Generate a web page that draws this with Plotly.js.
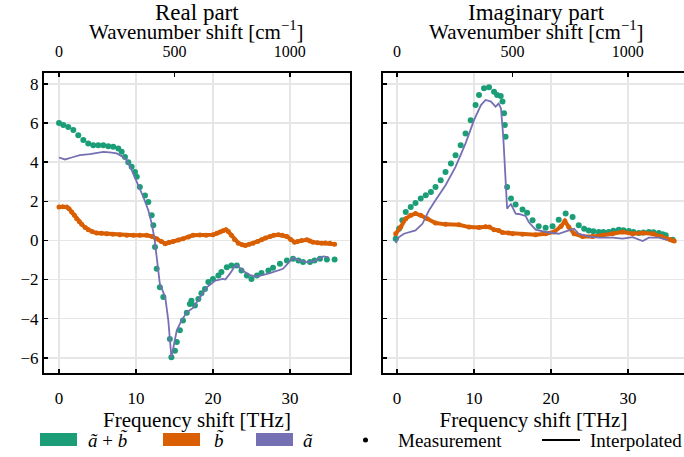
<!DOCTYPE html>
<html><head><meta charset="utf-8">
<script src="https://cdn.plot.ly/plotly-3.0.1.min.js"></script>
<style>body{margin:0;padding:0;background:#fff}#plot{width:684px;height:457px}</style>
</head><body><div id="plot"></div>
<script>
// ---------- Data (Frequency shift in THz) ----------
// Real part
const reSumX = [0,0.56,1.2,1.86,2.5,3.16,3.8,4.45,5.1,5.75,6.4,7.05,7.7,8.14,8.57,9.0,9.44,9.87,10.1,10.5,11.17,11.6,12.04,12.25,12.47,12.69,13.1,13.55,14.4,14.6,15.06,15.3,15.7,16.1,16.6,17.0,17.2,17.66,18.1,18.5,18.96,19.4,20.0,20.7,21.1,21.8,22.4,23.1,23.7,24.4,25.0,25.7,26.3,27.2,27.8,28.7,29.6,30.4,31.1,31.7,32.6,33.2,33.9,34.8,35.8];
const reSumY = [6.0,5.9,5.8,5.64,5.38,5.13,4.96,4.87,4.87,4.87,4.82,4.79,4.7,4.53,4.27,4.0,3.76,3.5,3.25,2.73,2.3,1.96,1.28,0.77,-0.34,-1.45,-2.4,-2.9,-5.04,-5.98,-5.64,-5.2,-4.6,-4.1,-3.7,-3.25,-3.08,-3.33,-3.0,-2.7,-2.48,-2.13,-1.97,-1.8,-1.62,-1.37,-1.28,-1.28,-1.54,-1.8,-1.97,-1.8,-1.67,-1.54,-1.4,-1.2,-1.03,-0.94,-1.03,-1.11,-1.11,-1.03,-0.94,-0.97,-0.97];

const reBX = [0,0.5,1.0,1.3,1.65,2.0,2.3,2.65,2.95,3.4,3.8,4.3,4.9,5.5,6.2,7.0,7.9,8.8,9.65,10.5,11.4,12.1,12.7,13.3,13.8,14.3,14.8,15.5,16.1,16.8,17.4,18.3,19.1,20.0,20.5,20.9,21.3,21.7,22.0,22.4,22.8,23.3,23.8,24.2,24.7,25.2,25.8,26.3,26.8,27.4,27.9,28.5,29.0,29.6,30.1,30.6,31.0,31.5,32.2,32.6,33.0,33.6,34.1,34.6,35.2,35.8];
const reBY = [1.71,1.72,1.71,1.62,1.45,1.28,1.11,0.95,0.82,0.66,0.55,0.45,0.38,0.36,0.34,0.31,0.29,0.27,0.26,0.26,0.26,0.2,0.09,-0.06,-0.17,-0.1,-0.05,0.02,0.09,0.18,0.26,0.28,0.27,0.29,0.36,0.43,0.5,0.55,0.45,0.26,0.05,-0.14,-0.22,-0.26,-0.2,-0.14,-0.05,0.03,0.12,0.2,0.26,0.29,0.27,0.2,0.05,-0.09,-0.05,0,0.03,-0.03,-0.09,-0.12,-0.14,-0.13,-0.14,-0.2];

const reAX = [0,0.78,1.65,2.7,4.0,5.3,5.75,6.6,7.5,8.14,8.8,9.44,10.3,10.95,11.6,12.04,12.4,12.7,13.1,13.8,14.2,14.6,15.3,15.9,16.6,17.4,18.3,19.2,20.3,21.3,21.6,22.2,22.9,23.1,23.9,24.8,25.7,27.4,29.1,30.4,31.3,32.2,33.2,34.3,35.0];
const reAY = [4.24,4.14,4.24,4.36,4.41,4.48,4.53,4.5,4.45,4.31,4.1,3.59,2.82,2.22,1.54,0.86,0.1,-1.03,-2.22,-2.9,-4.1,-5.98,-4.6,-4.1,-3.68,-3.45,-2.9,-2.4,-2.05,-1.97,-2.0,-1.7,-1.28,-1.28,-1.55,-1.78,-1.85,-1.67,-1.45,-0.89,-1.03,-1.11,-1.06,-0.82,-0.85];

// Imaginary part
const imSumX = [-0.17,0.26,0.69,1.13,1.78,2.4,3.08,3.73,4.4,5.0,5.67,6.3,7.0,7.6,8.27,8.9,9.57,10.2,10.65,11.3,11.95,12.6,13.0,13.47,13.7,13.9,14.0,14.1,14.3,14.8,15.4,16.3,16.9,17.6,18.4,19.3,20.2,21.0,21.9,22.8,23.6,24.3,24.9,25.5,26.2,26.8,27.5,28.1,28.8,29.4,30.1,30.7,31.4,32.0,32.7,33.3,34.0,34.5,34.9,35.8];
const imSumY = [0.09,0.6,1.03,1.45,1.71,1.91,2.14,2.31,2.48,2.73,3.08,3.5,3.93,4.36,4.87,5.47,6.15,6.92,7.44,7.78,7.83,7.6,7.44,7.38,7.1,6.5,5.9,5.3,2.73,2.14,1.84,1.58,1.41,1.03,0.72,0.65,0.72,1.06,1.37,1.2,0.77,0.6,0.51,0.47,0.43,0.43,0.43,0.5,0.55,0.52,0.48,0.43,0.38,0.4,0.43,0.42,0.38,0.32,0.26,0.03];

const imBX = [-0.17,0.48,1.13,1.78,2.4,3.08,3.94,5.0,6.3,8.05,9.35,10.65,11.5,12.0,12.6,13.2,13.7,14.5,15.0,16.3,18.0,19.3,20.4,21.3,21.8,22.3,23.0,24.1,25.4,26.7,28.0,29.3,30.6,31.9,33.2,34.4,35.5,36.0];
const imBY = [0.34,0.68,1.11,1.28,1.37,1.28,1.11,0.89,0.82,0.8,0.68,0.66,0.7,0.68,0.55,0.51,0.4,0.38,0.34,0.31,0.29,0.34,0.43,0.72,0.99,0.68,0.34,0.2,0.2,0.26,0.34,0.43,0.34,0.38,0.34,0.2,0.03,-0.03];

const imAX = [-0.17,0.26,0.9,1.56,2.4,3.3,4.16,5.0,6.3,7.6,8.9,10.0,10.9,11.5,12.2,12.8,13.2,13.5,13.8,14.1,14.3,14.45,14.8,15.2,15.4,15.8,16.3,16.7,17.1,17.6,18.0,19.3,21.0,22.3,23.0,23.6,24.9,26.2,28.0,29.3,30.6,31.9,32.7,34.0,35.1];
const imAY = [-0.14,0.17,0.34,0.43,0.51,0.85,1.54,2.05,2.82,3.76,4.96,6.15,6.92,7.18,7.1,6.84,7.0,6.75,5.3,3.08,1.62,1.71,1.85,1.54,1.37,1.35,1.28,1.25,0.94,0.75,0.55,0.43,0.34,0.51,0.6,0.34,0.2,0.14,0.14,0.09,0.17,-0.03,0.14,0.14,0.03];

// Top axis: wavenumber tick labels (cm^-1), converted to THz via 1 THz = 33.356 cm^-1
const waveTicks = [0, 500, 1000];
const THZ_PER_CM = 1/33.35641;

const C_SUM = '#1b9e77', C_B = '#d95f02', C_A = '#7570b3';
const FONT = 'Liberation Serif';

function measured(x, y, xa, ya, color) {
  return {x, y, xaxis: xa, yaxis: ya, type: 'scatter', mode: 'markers',
    marker: {color, size: 6}, showlegend: false, hoverinfo: 'skip', cliponaxis: false};
}
function measuredDense(x, y, xa, ya, color) {
  return {x, y, xaxis: xa, yaxis: ya, type: 'scatter', mode: 'lines+markers',
    line: {color, width: 4}, marker: {color, size: 5}, showlegend: false, hoverinfo: 'skip'};
}
function interp(x, y, xa, ya, color) {
  return {x, y, xaxis: xa, yaxis: ya, type: 'scatter', mode: 'lines',
    line: {color, width: 1.8}, showlegend: false, hoverinfo: 'skip'};
}

const traces = [
  measured(reSumX, reSumY, 'x', 'y', C_SUM),
  measuredDense(reBX, reBY, 'x', 'y', C_B),
  interp(reAX, reAY, 'x', 'y', C_A),
  measured(imSumX, imSumY, 'x2', 'y2', C_SUM),
  measuredDense(imBX, imBY, 'x2', 'y2', C_B),
  interp(imAX, imAY, 'x2', 'y2', C_A),
  {x: [], y: [], xaxis: 'x3', yaxis: 'y', type: 'scatter', showlegend: false},
  {x: [], y: [], xaxis: 'x4', yaxis: 'y2', type: 'scatter', showlegend: false}
];

const H = 457, W = 684;
const yDom = [1 - 373/H, 1 - 73/H];
const xDom1 = [44/W, 350/W];
const xDom2 = [383/W, 1];
const xr1 = [-1.95, 37.8];
const xr2 = [-1.82, 37.27];
const yr = [-6.78, 8.56];

const baseX = {
  tickvals: [0, 10, 20, 30], ticks: 'inside', ticklen: 4, tickwidth: 1.5, tickcolor: '#000',
  showline: true, mirror: true, linecolor: '#000', linewidth: 2,
  showgrid: true, gridcolor: '#e6e6e6', gridwidth: 1.6, zeroline: false,
  tickfont: {family: FONT, size: 17, color: '#000'}, ticklabelstandoff: 9,
  title: {text: 'Frequency shift [THz]', font: {family: FONT, size: 21, color: '#000'}, standoff: 2}
};
const baseY = {
  range: yr, tickvals: [-6, -4, -2, 0, 2, 4, 6, 8], ticks: 'inside', ticklen: 4, tickwidth: 1.5, tickcolor: '#000',
  showline: true, mirror: true, linecolor: '#000', linewidth: 2,
  showgrid: true, gridcolor: '#e6e6e6', gridwidth: 1.6, zeroline: false,
  tickfont: {family: FONT, size: 17, color: '#000'}
};
const topX = {
  side: 'top', tickvals: waveTicks.map(v => v * THZ_PER_CM), ticktext: waveTicks.map(String),
  ticks: 'inside', ticklen: 4, tickwidth: 1.5, tickcolor: '#000', showgrid: false, zeroline: false,
  showline: false, tickfont: {family: FONT, size: 16, color: '#000'}, ticklabelstandoff: 12
};

const LFS = 19;
const TOPT = 'Wavenumber shift [cm<sup>−1</sup>]';
const layout = {
  width: W, height: H, margin: {l: 0, r: 0, t: 0, b: 0},
  paper_bgcolor: '#fff', plot_bgcolor: '#fff', showlegend: false,
  font: {family: FONT, color: '#000'},
  xaxis: Object.assign({}, baseX, {domain: xDom1, range: xr1, anchor: 'y'}),
  yaxis: Object.assign({}, baseY, {domain: yDom, anchor: 'x'}),
  xaxis2: Object.assign({}, baseX, {domain: xDom2, range: xr2, anchor: 'y2'}),
  yaxis2: Object.assign({}, baseY, {domain: yDom, anchor: 'x2', showticklabels: false}),
  xaxis3: Object.assign({}, topX, {overlaying: 'x', anchor: 'y', range: xr1}),
  xaxis4: Object.assign({}, topX, {overlaying: 'x2', anchor: 'y2', range: xr2}),
  annotations: [
    {text: 'Real part', xref: 'paper', yref: 'paper', x: (xDom1[0]+xDom1[1])/2, y: 1 - 12/H,
     xanchor: 'center', yanchor: 'middle', showarrow: false, font: {family: FONT, size: 23}},
    {text: 'Imaginary part', xref: 'paper', yref: 'paper', x: (383/W + 689/W)/2, y: 1 - 12/H,
     xanchor: 'center', yanchor: 'middle', showarrow: false, font: {family: FONT, size: 23}},
    {text: TOPT, xref: 'paper', yref: 'paper', x: (xDom1[0]+xDom1[1])/2, y: 1 - 31/H,
     xanchor: 'center', yanchor: 'middle', showarrow: false, font: {family: FONT, size: 21}},
    {text: TOPT, xref: 'paper', yref: 'paper', x: (383/W + 689/W)/2, y: 1 - 31/H,
     xanchor: 'center', yanchor: 'middle', showarrow: false, font: {family: FONT, size: 21}},
    // legend texts
    {text: '<i>ã</i> + <i>b̃</i>', xref: 'paper', yref: 'paper', x: 86/W, y: 1 - 440/H, xanchor: 'left', yanchor: 'middle', showarrow: false, font: {family: FONT, size: LFS}},
    {text: '<i>b̃</i>', xref: 'paper', yref: 'paper', x: 212/W, y: 1 - 440/H, xanchor: 'left', yanchor: 'middle', showarrow: false, font: {family: FONT, size: LFS}},
    {text: '<i>ã</i>', xref: 'paper', yref: 'paper', x: 301/W, y: 1 - 440/H, xanchor: 'left', yanchor: 'middle', showarrow: false, font: {family: FONT, size: LFS}},
    {text: 'Measurement', xref: 'paper', yref: 'paper', x: 396/W, y: 1 - 440/H, xanchor: 'left', yanchor: 'middle', showarrow: false, font: {family: FONT, size: LFS}},
    {text: 'Interpolated', xref: 'paper', yref: 'paper', x: 588/W, y: 1 - 440/H, xanchor: 'left', yanchor: 'middle', showarrow: false, font: {family: FONT, size: LFS}}
  ],
  shapes: [
    {type: 'rect', xref: 'paper', yref: 'paper', x0: 40/W, x1: 77/W, y0: 1 - 446/H, y1: 1 - 433/H, fillcolor: C_SUM, line: {width: 0}},
    {type: 'rect', xref: 'paper', yref: 'paper', x0: 163/W, x1: 200/W, y0: 1 - 446/H, y1: 1 - 433/H, fillcolor: C_B, line: {width: 0}},
    {type: 'rect', xref: 'paper', yref: 'paper', x0: 256/W, x1: 293/W, y0: 1 - 446/H, y1: 1 - 433/H, fillcolor: C_A, line: {width: 0}},
    {type: 'circle', xref: 'paper', yref: 'paper', x0: 363/W, x1: 368/W, y0: 1 - 442.5/H, y1: 1 - 437.5/H, fillcolor: '#000', line: {width: 0}},
    {type: 'line', xref: 'paper', yref: 'paper', x0: 542/W, x1: 580/W, y0: 1 - 440/H, y1: 1 - 440/H, line: {color: '#000', width: 2}}
  ]
};

Plotly.newPlot('plot', traces, layout, {staticPlot: true, displayModeBar: false});
</script>
</body></html>
